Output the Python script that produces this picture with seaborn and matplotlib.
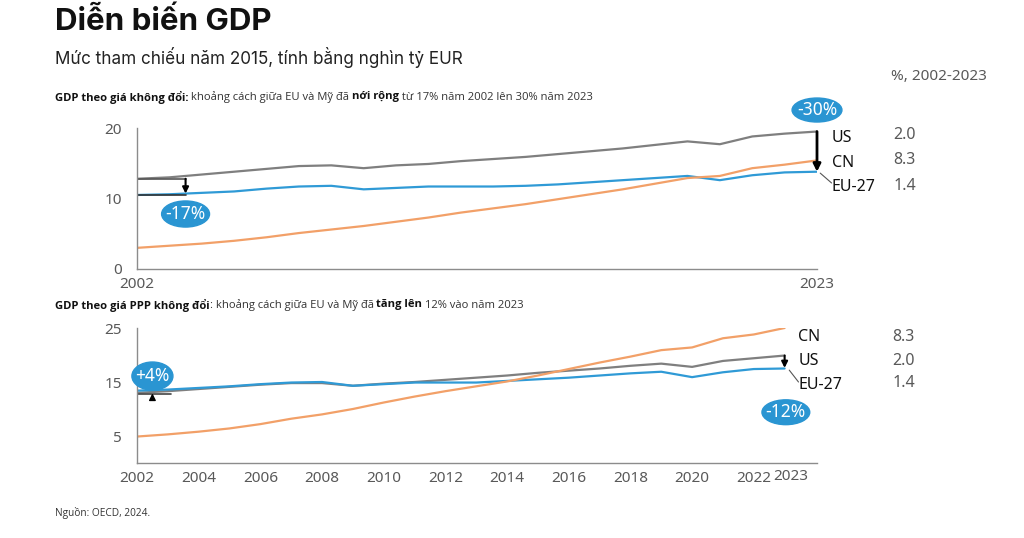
import numpy as np
import pandas as pd
import matplotlib
matplotlib.use("Agg")
import matplotlib.pyplot as plt
import seaborn as sns
from matplotlib.patches import Ellipse

sns.set_style("white")
plt.rcParams['font.family'] = ['Open Sans', 'DejaVu Sans']

# --- data (nghin ty EUR, gia 2015) ---
years = list(range(2002, 2024))

# GDP theo gia khong doi
us_const = [12.8, 13.0, 13.4, 13.8, 14.2, 14.6, 14.7, 14.3, 14.7, 14.9, 15.3,
            15.6, 15.9, 16.3, 16.7, 17.1, 17.6, 18.1, 17.7, 18.8, 19.2, 19.5]
eu_const = [10.5, 10.6, 10.8, 11.0, 11.4, 11.7, 11.8, 11.3, 11.5, 11.7, 11.7,
            11.7, 11.8, 12.0, 12.3, 12.6, 12.9, 13.2, 12.6, 13.3, 13.7, 13.8]
cn_const = [3.0, 3.3, 3.6, 4.0, 4.5, 5.1, 5.6, 6.1, 6.7, 7.3, 8.0,
            8.6, 9.2, 9.9, 10.6, 11.3, 12.1, 12.9, 13.2, 14.3, 14.8, 15.4]

# GDP theo gia PPP khong doi
us_ppp = [13.0, 13.3, 13.7, 14.1, 14.5, 14.8, 14.8, 14.3, 14.7, 15.0, 15.4,
          15.8, 16.2, 16.7, 17.1, 17.5, 18.0, 18.4, 17.8, 18.9, 19.4, 19.9]
eu_ppp = [13.4, 13.6, 13.9, 14.2, 14.6, 14.9, 15.0, 14.3, 14.6, 14.9, 14.9,
          14.9, 15.2, 15.5, 15.8, 16.2, 16.6, 16.9, 15.9, 16.8, 17.4, 17.5]
cn_ppp = [4.9, 5.3, 5.8, 6.4, 7.2, 8.2, 9.0, 10.0, 11.2, 12.3, 13.3,
          14.2, 15.1, 16.2, 17.4, 18.6, 19.7, 20.9, 21.4, 23.1, 23.8, 25.0]

# tang truong binh quan %, 2002-2023
growth = {"US": "2.0", "CN": "8.3", "EU-27": "1.4"}

colors = {"US": "#7f7f7f", "EU-27": "#2f9ad6", "CN": "#f2a068"}
bubble = "#2a95d2"
grey_txt = "#595959"


def long_df(us, eu, cn):
    return pd.concat([
        pd.DataFrame({"year": years, "gdp": us, "area": "US"}),
        pd.DataFrame({"year": years, "gdp": eu, "area": "EU-27"}),
        pd.DataFrame({"year": years, "gdp": cn, "area": "CN"}),
    ])


def style_axis(ax):
    sns.despine(ax=ax)
    for s in ["left", "bottom"]:
        ax.spines[s].set_color("#8c8c8c")
        ax.spines[s].set_linewidth(1.0)
    ax.tick_params(axis="y", length=5, color="#8c8c8c", labelsize=11,
                   labelcolor=grey_txt, pad=6)
    ax.tick_params(axis="x", length=0, labelsize=11, labelcolor=grey_txt, pad=6)
    for lab in ax.get_xticklabels() + ax.get_yticklabels():
        lab.set_family(["Noto Sans", "DejaVu Sans"])
    ax.set_xlabel("")
    ax.set_ylabel("")


def pill(ax, x, y, text, w, h):
    ax.add_patch(Ellipse((x, y), w, h, transform=ax.transData,
                         color=bubble, clip_on=False, zorder=5))
    ax.text(x, y, text, color="white", ha="center", va="center",
            fontsize=12.5, zorder=6, clip_on=False,
            family=["Noto Sans", "DejaVu Sans"])


def rich_line(fig, x, y, parts, size=8.1):
    # one line of text with some bold pieces
    r = fig.canvas.get_renderer()
    for txt, bold in parts:
        t = fig.text(x, y, txt, fontsize=size, fontweight="bold" if bold else "normal",
                     ha="left", va="center", color="#111111" if bold else "#333333")
        bb = t.get_window_extent(renderer=r)
        x += bb.width / fig.bbox.width


fig = plt.figure(figsize=(10.24, 5.38), dpi=100)

fig.text(55 / 1024, 1 - 22 / 538, "Diễn biến GDP", fontsize=22.5, fontweight="bold",
         family=["Inter", "DejaVu Sans"], va="center", ha="left", color="#111111")
fig.text(55 / 1024, 1 - 57 / 538, "Mức tham chiếu năm 2015, tính bằng nghìn tỷ EUR",
         fontsize=12.3, family=["Inter", "DejaVu Sans"], va="center", ha="left",
         color="#222222")
fig.text(987 / 1024, 1 - 77 / 538, "%, 2002-2023", fontsize=11, color=grey_txt,
         ha="right", va="center", family=["Noto Sans", "DejaVu Sans"])

# ---------------- top panel ----------------
rich_line(fig, 55 / 1024, 1 - 97 / 538, [
    ("GDP theo giá không đổi:", True), (" khoảng cách giữa EU và Mỹ đã ", False),
    ("nới rộng", True), (" từ 17% năm 2002 lên 30% năm 2023", False)])

ax1 = fig.add_axes([137 / 1024, 0.5, 680 / 1024, 141 / 538])
sns.lineplot(data=long_df(us_const, eu_const, cn_const), x="year", y="gdp",
             hue="area", palette=colors, linewidth=1.6, legend=False, ax=ax1)
ax1.set_xlim(2002, 2023)
ax1.set_ylim(0, 20)
ax1.set_yticks([0, 10, 20])
ax1.set_xticks([2002, 2023])
style_axis(ax1)

# 2002 gap
ax1.plot([2002, 2003.5], [us_const[0], us_const[0]], color="#555555", lw=1.2)
ax1.plot([2002, 2003.5], [eu_const[0], eu_const[0]], color="#333333", lw=1.2)
ax1.annotate("", xy=(2003.5, eu_const[0] + 0.2), xytext=(2003.5, us_const[0]),
             arrowprops=dict(arrowstyle="-|>", color="black", lw=1.5,
                             mutation_scale=9, shrinkA=0, shrinkB=0))
pill(ax1, 2003.5, 7.8, "-17%", 1.48, 3.7)

# 2023 gap
ax1.annotate("", xy=(2023, eu_const[-1]), xytext=(2023, us_const[-1]),
             arrowprops=dict(arrowstyle="-|>", color="black", lw=2.0,
                             mutation_scale=11, shrinkA=0, shrinkB=0),
             annotation_clip=False)
pill(ax1, 2023.0, 22.55, "-30%", 1.54, 3.4)
ax1.plot([2023.1, 2023.45], [eu_const[-1] - 0.2, 12.2], color="#555555", lw=0.8,
         clip_on=False)
for lab, yv, gv in [("US", 18.6, 19.0), ("CN", 15.0, 15.4), ("EU-27", 11.6, 11.8)]:
    ax1.text(2023.45, yv, lab, fontsize=11.5, ha="left", va="center",
             color="#111111", clip_on=False, family=["Noto Sans", "DejaVu Sans"])
    ax1.text(2025.35, gv, growth[lab], fontsize=11.5, ha="left", va="center",
             color=grey_txt, clip_on=False, family=["Noto Sans", "DejaVu Sans"])

# ---------------- bottom panel ----------------
rich_line(fig, 55 / 1024, 1 - 305 / 538, [
    ("GDP theo giá PPP không đổi", True), (": khoảng cách giữa EU và Mỹ đã ", False),
    ("tăng lên", True), (" 12% vào năm 2023", False)])

ax2 = fig.add_axes([137 / 1024, 1 - 463 / 538, 680 / 1024, 135 / 538])
sns.lineplot(data=long_df(us_ppp, eu_ppp, cn_ppp), x="year", y="gdp",
             hue="area", palette=colors, linewidth=1.6, legend=False, ax=ax2)
ax2.set_xlim(2002, 2024.05)
ax2.set_ylim(0, 25)
ax2.set_yticks([5, 10, 15, 20, 25])
ax2.set_yticklabels(["5", "", "15", "", "25"])
ax2.set_xticks(list(range(2002, 2023, 2)))
style_axis(ax2)
ax2.text(2023.2, -1.2, "2023", fontsize=11, color=grey_txt, ha="center", va="top",
         family=["Noto Sans", "DejaVu Sans"])

# 2002 gap
ax2.plot([2002, 2003.1], [us_ppp[0] - 0.2, us_ppp[0] - 0.2], color="#444444", lw=1.2)
ax2.annotate("", xy=(2002.5, eu_ppp[0] - 0.5), xytext=(2002.5, us_ppp[0] - 0.7),
             arrowprops=dict(arrowstyle="-|>", color="black", lw=1.0,
                             mutation_scale=10, shrinkA=0, shrinkB=0))
pill(ax2, 2002.5, 16.1, "+4%", 1.33, 5.2)

# 2023 gap
ax2.annotate("", xy=(2023, eu_ppp[-1] + 0.1), xytext=(2023, us_ppp[-1]),
             arrowprops=dict(arrowstyle="-|>", color="black", lw=1.5,
                             mutation_scale=9, shrinkA=0, shrinkB=0))
ax2.plot([2023.15, 2023.45], [eu_ppp[-1] - 0.3, 15.0], color="#555555", lw=0.8,
         clip_on=False)
pill(ax2, 2023.04, 9.4, "-12%", 1.55, 4.6)
for lab, yv, gv in [("CN", 23.3, 23.3), ("US", 18.9, 18.9), ("EU-27", 14.4, 14.8)]:
    ax2.text(2023.45, yv, lab, fontsize=11.5, ha="left", va="center",
             color="#111111", clip_on=False, family=["Noto Sans", "DejaVu Sans"])
    ax2.text(2026.5, gv, growth[lab], fontsize=11.5, ha="left", va="center",
             color=grey_txt, clip_on=False, family=["Noto Sans", "DejaVu Sans"])

fig.text(55 / 1024, 1 - 513 / 538, "Nguồn: OECD, 2024.", fontsize=7.3, color="#333333",
         ha="left", va="center")

fig.savefig("out.png", dpi=100)
